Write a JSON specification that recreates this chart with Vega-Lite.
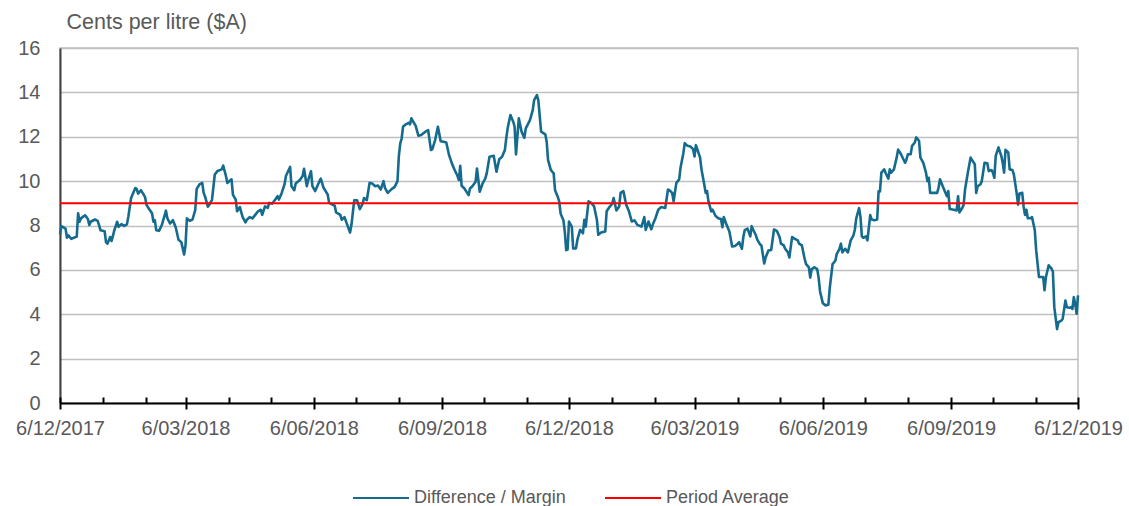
{
  "$schema": "https://vega.github.io/schema/vega-lite/v6.json",
  "width": 1018,
  "height": 355,
  "autosize": {"type": "none"},
  "padding": {"left": 60, "top": 48, "right": 51, "bottom": 103},
  "background": "white",
  "config": {
    "font": "Liberation Sans",
    "view": {"stroke": "#c0c0c0", "strokeWidth": 1.5},
    "legend": {
      "orient": "none", "legendX": 292, "legendY": 421, "direction": "horizontal",
      "title": null, "symbolType": "stroke", "symbolSize": 3136, "symbolStrokeWidth": 2,
      "labelFontSize": 18, "labelColor": "#595959", "labelFont": "Liberation Sans",
      "columnPadding": 35, "labelOffset": 4, "labelLimit": 400
    }
  },
  "datasets": {
    "margin": [
      {"date":"2017-12-06","value":7.6},{"date":"2017-12-07","value":7.97},{"date":"2017-12-10","value":7.86},{"date":"2017-12-11","value":7.45},{"date":"2017-12-12","value":7.56},{"date":"2017-12-14","value":7.4},{"date":"2017-12-16","value":7.45},{"date":"2017-12-18","value":7.5},{"date":"2017-12-19","value":8.55},{"date":"2017-12-20","value":8.17},{"date":"2017-12-21","value":8.32},{"date":"2017-12-24","value":8.46},{"date":"2017-12-26","value":8.29},{"date":"2017-12-27","value":8.02},{"date":"2017-12-28","value":8.17},{"date":"2017-12-31","value":8.27},
      {"date":"2018-01-02","value":8.21},{"date":"2018-01-03","value":8.02},{"date":"2018-01-04","value":7.79},{"date":"2018-01-07","value":7.74},{"date":"2018-01-08","value":7.25},{"date":"2018-01-09","value":7.18},{"date":"2018-01-11","value":7.48},{"date":"2018-01-12","value":7.3},{"date":"2018-01-14","value":7.79},{"date":"2018-01-16","value":8.17},{"date":"2018-01-17","value":7.94},{"date":"2018-01-19","value":8.06},{"date":"2018-01-21","value":7.98},{"date":"2018-01-23","value":8.05},{"date":"2018-01-24","value":8.4},{"date":"2018-01-26","value":9.24},{"date":"2018-01-29","value":9.69},{"date":"2018-01-30","value":9.65},{"date":"2018-01-31","value":9.44},
      {"date":"2018-02-02","value":9.59},{"date":"2018-02-04","value":9.39},{"date":"2018-02-05","value":9.28},{"date":"2018-02-06","value":8.93},{"date":"2018-02-08","value":8.73},{"date":"2018-02-10","value":8.55},{"date":"2018-02-11","value":8.17},{"date":"2018-02-12","value":8.24},{"date":"2018-02-13","value":7.79},{"date":"2018-02-15","value":7.76},{"date":"2018-02-17","value":8.02},{"date":"2018-02-20","value":8.67},{"date":"2018-02-21","value":8.32},{"date":"2018-02-23","value":8.09},{"date":"2018-02-25","value":8.24},{"date":"2018-02-27","value":7.91},
      {"date":"2018-03-01","value":7.36},{"date":"2018-03-03","value":7.25},{"date":"2018-03-05","value":6.69},{"date":"2018-03-06","value":7.1},{"date":"2018-03-07","value":8.32},{"date":"2018-03-09","value":8.21},{"date":"2018-03-11","value":8.27},{"date":"2018-03-13","value":8.7},{"date":"2018-03-14","value":9.65},{"date":"2018-03-16","value":9.85},{"date":"2018-03-18","value":9.92},{"date":"2018-03-19","value":9.47},{"date":"2018-03-20","value":9.31},{"date":"2018-03-22","value":8.85},{"date":"2018-03-23","value":8.93},{"date":"2018-03-25","value":9.16},{"date":"2018-03-27","value":10.3},{"date":"2018-03-29","value":10.46},
      {"date":"2018-04-01","value":10.53},{"date":"2018-04-02","value":10.7},{"date":"2018-04-04","value":10.23},{"date":"2018-04-05","value":9.92},{"date":"2018-04-08","value":10.08},{"date":"2018-04-09","value":9.39},{"date":"2018-04-11","value":9.17},{"date":"2018-04-12","value":8.64},{"date":"2018-04-14","value":8.83},{"date":"2018-04-15","value":8.59},{"date":"2018-04-16","value":8.38},{"date":"2018-04-18","value":8.14},{"date":"2018-04-19","value":8.26},{"date":"2018-04-21","value":8.38},{"date":"2018-04-23","value":8.32},{"date":"2018-04-25","value":8.48},{"date":"2018-04-27","value":8.64},{"date":"2018-04-29","value":8.71},{"date":"2018-04-30","value":8.48},
      {"date":"2018-05-02","value":8.86},{"date":"2018-05-04","value":8.79},{"date":"2018-05-05","value":9.02},{"date":"2018-05-07","value":8.98},{"date":"2018-05-09","value":9.14},{"date":"2018-05-11","value":9.32},{"date":"2018-05-12","value":9.17},{"date":"2018-05-14","value":9.47},{"date":"2018-05-16","value":9.85},{"date":"2018-05-17","value":10.23},{"date":"2018-05-20","value":10.64},{"date":"2018-05-21","value":9.77},{"date":"2018-05-23","value":9.59},{"date":"2018-05-24","value":9.89},{"date":"2018-05-27","value":10.05},{"date":"2018-05-29","value":10.23},{"date":"2018-05-30","value":10.56},
      {"date":"2018-06-01","value":9.77},{"date":"2018-06-02","value":10.05},{"date":"2018-06-04","value":10.45},{"date":"2018-06-05","value":9.77},{"date":"2018-06-07","value":9.55},{"date":"2018-06-09","value":9.85},{"date":"2018-06-11","value":10.11},{"date":"2018-06-13","value":9.7},{"date":"2018-06-16","value":9.39},{"date":"2018-06-17","value":9.02},{"date":"2018-06-21","value":8.89},{"date":"2018-06-22","value":8.59},{"date":"2018-06-25","value":8.48},{"date":"2018-06-26","value":8.26},{"date":"2018-06-28","value":8.38},{"date":"2018-06-30","value":8.03},
      {"date":"2018-07-02","value":7.68},{"date":"2018-07-03","value":8.03},{"date":"2018-07-05","value":9.14},{"date":"2018-07-07","value":9.14},{"date":"2018-07-09","value":8.74},{"date":"2018-07-11","value":8.98},{"date":"2018-07-12","value":9.24},{"date":"2018-07-14","value":9.14},{"date":"2018-07-16","value":9.92},{"date":"2018-07-18","value":9.89},{"date":"2018-07-20","value":9.77},{"date":"2018-07-22","value":9.8},{"date":"2018-07-24","value":9.62},{"date":"2018-07-26","value":10.0},{"date":"2018-07-27","value":9.7},{"date":"2018-07-29","value":9.47},
      {"date":"2018-08-01","value":9.65},{"date":"2018-08-03","value":9.74},{"date":"2018-08-05","value":10.0},{"date":"2018-08-06","value":11.14},{"date":"2018-08-07","value":11.7},{"date":"2018-08-08","value":11.92},{"date":"2018-08-09","value":12.45},{"date":"2018-08-11","value":12.56},{"date":"2018-08-13","value":12.63},{"date":"2018-08-14","value":12.56},{"date":"2018-08-15","value":12.83},{"date":"2018-08-16","value":12.71},{"date":"2018-08-18","value":12.5},{"date":"2018-08-20","value":12.05},{"date":"2018-08-22","value":12.08},{"date":"2018-08-25","value":12.23},{"date":"2018-08-27","value":12.3},{"date":"2018-08-29","value":11.4},{"date":"2018-08-30","value":11.44},
      {"date":"2018-09-01","value":11.85},{"date":"2018-09-03","value":12.45},{"date":"2018-09-05","value":11.8},{"date":"2018-09-07","value":11.77},{"date":"2018-09-09","value":11.74},{"date":"2018-09-11","value":11.17},{"date":"2018-09-13","value":10.8},{"date":"2018-09-15","value":10.5},{"date":"2018-09-17","value":10.24},{"date":"2018-09-18","value":10.05},{"date":"2018-09-19","value":10.69},{"date":"2018-09-20","value":9.79},{"date":"2018-09-22","value":9.67},{"date":"2018-09-25","value":9.37},{"date":"2018-09-26","value":9.67},{"date":"2018-09-28","value":9.79},{"date":"2018-09-30","value":9.97},
      {"date":"2018-10-01","value":10.57},{"date":"2018-10-03","value":9.52},{"date":"2018-10-05","value":9.89},{"date":"2018-10-07","value":10.12},{"date":"2018-10-08","value":10.35},{"date":"2018-10-10","value":11.1},{"date":"2018-10-13","value":11.14},{"date":"2018-10-15","value":10.42},{"date":"2018-10-17","value":10.99},{"date":"2018-10-19","value":11.1},{"date":"2018-10-21","value":11.4},{"date":"2018-10-22","value":11.92},{"date":"2018-10-23","value":12.38},{"date":"2018-10-25","value":12.98},{"date":"2018-10-27","value":12.68},{"date":"2018-10-28","value":12.45},{"date":"2018-10-29","value":11.2},{"date":"2018-10-31","value":12.83},
      {"date":"2018-11-02","value":12.23},{"date":"2018-11-04","value":11.95},{"date":"2018-11-05","value":12.38},{"date":"2018-11-08","value":12.75},{"date":"2018-11-10","value":13.2},{"date":"2018-11-11","value":13.65},{"date":"2018-11-13","value":13.88},{"date":"2018-11-14","value":13.65},{"date":"2018-11-16","value":12.23},{"date":"2018-11-19","value":12.11},{"date":"2018-11-20","value":11.77},{"date":"2018-11-21","value":10.95},{"date":"2018-11-23","value":10.5},{"date":"2018-11-25","value":10.35},{"date":"2018-11-26","value":9.59},{"date":"2018-11-28","value":9.29},{"date":"2018-11-29","value":9.07},{"date":"2018-11-30","value":8.53},
      {"date":"2018-12-02","value":8.24},{"date":"2018-12-03","value":7.71},{"date":"2018-12-04","value":6.89},{"date":"2018-12-05","value":6.92},{"date":"2018-12-06","value":8.18},{"date":"2018-12-08","value":7.95},{"date":"2018-12-09","value":6.97},{"date":"2018-12-11","value":6.97},{"date":"2018-12-12","value":7.35},{"date":"2018-12-14","value":7.8},{"date":"2018-12-16","value":7.65},{"date":"2018-12-17","value":8.26},{"date":"2018-12-18","value":7.95},{"date":"2018-12-20","value":9.09},{"date":"2018-12-22","value":9.02},{"date":"2018-12-24","value":8.86},{"date":"2018-12-26","value":8.26},{"date":"2018-12-27","value":7.58},{"date":"2018-12-29","value":7.68},
      {"date":"2019-01-01","value":7.73},{"date":"2019-01-02","value":8.64},{"date":"2019-01-04","value":8.83},{"date":"2019-01-06","value":8.98},{"date":"2019-01-07","value":9.24},{"date":"2019-01-09","value":8.68},{"date":"2019-01-11","value":8.86},{"date":"2019-01-12","value":9.47},{"date":"2019-01-14","value":9.55},{"date":"2019-01-16","value":8.94},{"date":"2019-01-18","value":8.64},{"date":"2019-01-20","value":8.18},{"date":"2019-01-22","value":8.23},{"date":"2019-01-24","value":8.03},{"date":"2019-01-27","value":7.95},{"date":"2019-01-29","value":8.38},{"date":"2019-01-30","value":7.8},
      {"date":"2019-02-01","value":8.18},{"date":"2019-02-03","value":7.83},{"date":"2019-02-04","value":8.03},{"date":"2019-02-06","value":8.33},{"date":"2019-02-08","value":8.71},{"date":"2019-02-10","value":8.83},{"date":"2019-02-13","value":8.79},{"date":"2019-02-15","value":9.62},{"date":"2019-02-16","value":9.59},{"date":"2019-02-18","value":9.47},{"date":"2019-02-19","value":9.09},{"date":"2019-02-21","value":9.92},{"date":"2019-02-23","value":10.08},{"date":"2019-02-24","value":10.61},{"date":"2019-02-26","value":11.26},{"date":"2019-02-27","value":11.71},
      {"date":"2019-03-01","value":11.59},{"date":"2019-03-03","value":11.56},{"date":"2019-03-05","value":11.44},{"date":"2019-03-06","value":11.11},{"date":"2019-03-07","value":11.62},{"date":"2019-03-08","value":11.44},{"date":"2019-03-10","value":11.06},{"date":"2019-03-11","value":10.53},{"date":"2019-03-13","value":9.85},{"date":"2019-03-14","value":9.47},{"date":"2019-03-15","value":9.55},{"date":"2019-03-16","value":9.09},{"date":"2019-03-18","value":8.64},{"date":"2019-03-19","value":8.71},{"date":"2019-03-21","value":8.44},{"date":"2019-03-23","value":8.33},{"date":"2019-03-25","value":8.29},{"date":"2019-03-26","value":7.92},{"date":"2019-03-27","value":8.38},{"date":"2019-03-29","value":8.03},{"date":"2019-03-31","value":7.73},
      {"date":"2019-04-02","value":7.05},{"date":"2019-04-04","value":7.08},{"date":"2019-04-06","value":7.18},{"date":"2019-04-07","value":7.25},{"date":"2019-04-09","value":6.95},{"date":"2019-04-10","value":7.48},{"date":"2019-04-11","value":7.79},{"date":"2019-04-13","value":7.86},{"date":"2019-04-15","value":7.51},{"date":"2019-04-16","value":7.97},{"date":"2019-04-17","value":7.82},{"date":"2019-04-19","value":7.56},{"date":"2019-04-20","value":7.36},{"date":"2019-04-22","value":7.15},{"date":"2019-04-23","value":7.1},{"date":"2019-04-25","value":6.29},{"date":"2019-04-26","value":6.56},{"date":"2019-04-28","value":6.87},{"date":"2019-04-30","value":6.9},
      {"date":"2019-05-02","value":7.82},{"date":"2019-05-04","value":7.76},{"date":"2019-05-06","value":7.48},{"date":"2019-05-07","value":7.18},{"date":"2019-05-09","value":7.1},{"date":"2019-05-10","value":6.95},{"date":"2019-05-12","value":6.79},{"date":"2019-05-13","value":6.56},{"date":"2019-05-15","value":7.48},{"date":"2019-05-17","value":7.4},{"date":"2019-05-19","value":7.33},{"date":"2019-05-20","value":7.18},{"date":"2019-05-22","value":7.1},{"date":"2019-05-24","value":6.49},{"date":"2019-05-25","value":6.26},{"date":"2019-05-27","value":6.11},{"date":"2019-05-28","value":5.65},{"date":"2019-05-29","value":6.03},{"date":"2019-05-31","value":6.11},
      {"date":"2019-06-02","value":6.03},{"date":"2019-06-03","value":5.65},{"date":"2019-06-04","value":5.04},{"date":"2019-06-06","value":4.5},{"date":"2019-06-08","value":4.4},{"date":"2019-06-10","value":4.43},{"date":"2019-06-11","value":5.19},{"date":"2019-06-12","value":5.73},{"date":"2019-06-13","value":6.26},{"date":"2019-06-15","value":6.41},{"date":"2019-06-16","value":6.72},{"date":"2019-06-18","value":6.95},{"date":"2019-06-19","value":7.18},{"date":"2019-06-20","value":6.79},{"date":"2019-06-22","value":6.95},{"date":"2019-06-24","value":6.79},{"date":"2019-06-26","value":7.33},{"date":"2019-06-28","value":7.56},{"date":"2019-06-29","value":7.82},{"date":"2019-06-30","value":8.32},
      {"date":"2019-07-02","value":8.78},{"date":"2019-07-03","value":8.4},{"date":"2019-07-04","value":7.51},{"date":"2019-07-05","value":7.45},{"date":"2019-07-07","value":7.51},{"date":"2019-07-08","value":7.33},{"date":"2019-07-10","value":8.47},{"date":"2019-07-11","value":8.27},{"date":"2019-07-13","value":8.24},{"date":"2019-07-15","value":8.27},{"date":"2019-07-16","value":9.54},{"date":"2019-07-17","value":9.54},{"date":"2019-07-18","value":10.38},{"date":"2019-07-20","value":10.53},{"date":"2019-07-21","value":10.38},{"date":"2019-07-23","value":10.11},{"date":"2019-07-24","value":10.53},{"date":"2019-07-25","value":10.38},{"date":"2019-07-27","value":10.53},{"date":"2019-07-29","value":11.07},{"date":"2019-07-30","value":11.42},
      {"date":"2019-08-01","value":11.22},{"date":"2019-08-04","value":10.83},{"date":"2019-08-05","value":10.98},{"date":"2019-08-06","value":11.21},{"date":"2019-08-08","value":11.21},{"date":"2019-08-09","value":11.59},{"date":"2019-08-11","value":11.74},{"date":"2019-08-12","value":11.97},{"date":"2019-08-14","value":11.82},{"date":"2019-08-15","value":11.06},{"date":"2019-08-17","value":10.83},{"date":"2019-08-19","value":10.38},{"date":"2019-08-20","value":10.0},{"date":"2019-08-21","value":10.15},{"date":"2019-08-22","value":9.47},{"date":"2019-08-24","value":9.47},{"date":"2019-08-27","value":9.47},{"date":"2019-08-28","value":9.7},{"date":"2019-08-29","value":10.08},{"date":"2019-08-31","value":9.77},
      {"date":"2019-09-02","value":9.47},{"date":"2019-09-03","value":9.32},{"date":"2019-09-04","value":9.55},{"date":"2019-09-05","value":8.74},{"date":"2019-09-08","value":8.71},{"date":"2019-09-10","value":8.68},{"date":"2019-09-11","value":9.32},{"date":"2019-09-12","value":8.59},{"date":"2019-09-14","value":8.79},{"date":"2019-09-15","value":8.94},{"date":"2019-09-16","value":9.62},{"date":"2019-09-18","value":10.38},{"date":"2019-09-20","value":11.06},{"date":"2019-09-21","value":10.95},{"date":"2019-09-23","value":10.76},{"date":"2019-09-24","value":9.47},{"date":"2019-09-25","value":9.77},{"date":"2019-09-27","value":9.85},{"date":"2019-09-28","value":10.0},{"date":"2019-09-30","value":10.83},
      {"date":"2019-10-02","value":10.8},{"date":"2019-10-03","value":10.45},{"date":"2019-10-05","value":10.5},{"date":"2019-10-06","value":10.38},{"date":"2019-10-07","value":10.15},{"date":"2019-10-08","value":11.14},{"date":"2019-10-10","value":11.52},{"date":"2019-10-12","value":11.14},{"date":"2019-10-13","value":10.83},{"date":"2019-10-14","value":10.38},{"date":"2019-10-15","value":11.41},{"date":"2019-10-17","value":11.29},{"date":"2019-10-18","value":10.53},{"date":"2019-10-20","value":10.5},{"date":"2019-10-21","value":10.3},{"date":"2019-10-23","value":9.47},{"date":"2019-10-24","value":8.94},{"date":"2019-10-25","value":9.44},{"date":"2019-10-27","value":9.47},{"date":"2019-10-28","value":8.86},{"date":"2019-10-29","value":8.48},{"date":"2019-10-30","value":8.71},{"date":"2019-10-31","value":8.33},
      {"date":"2019-11-02","value":8.33},{"date":"2019-11-03","value":8.38},{"date":"2019-11-05","value":7.8},{"date":"2019-11-06","value":6.89},{"date":"2019-11-08","value":5.68},{"date":"2019-11-10","value":5.68},{"date":"2019-11-11","value":5.68},{"date":"2019-11-12","value":5.08},{"date":"2019-11-13","value":5.68},{"date":"2019-11-15","value":6.21},{"date":"2019-11-17","value":6.06},{"date":"2019-11-18","value":5.91},{"date":"2019-11-19","value":4.32},{"date":"2019-11-21","value":3.33},{"date":"2019-11-22","value":3.64},{"date":"2019-11-24","value":3.71},{"date":"2019-11-25","value":3.79},{"date":"2019-11-27","value":4.62},{"date":"2019-11-28","value":4.32},{"date":"2019-11-30","value":4.29},
      {"date":"2019-12-01","value":4.32},{"date":"2019-12-02","value":4.24},{"date":"2019-12-03","value":4.77},{"date":"2019-12-04","value":4.47},{"date":"2019-12-05","value":4.02},{"date":"2019-12-06","value":4.85}
    ],
    "average": [
      {"series": "Period Average", "start": "2017-12-06", "end": "2019-12-06", "value": 9.0}
    ]
  },
  "layer": [
    {
      "data": {"name": "margin"},
      "mark": {"type": "line", "strokeWidth": 2.6, "strokeJoin": "round"},
      "encoding": {
        "x": {
          "field": "date", "type": "temporal",
          "scale": {"type": "utc", "domain": [{"year": 2017, "month": 12, "date": 6, "utc": true}, {"year": 2019, "month": 12, "date": 6, "utc": true}]},
          "axis": {
            "orient": "bottom", "title": null, "grid": false,
            "values": [
              {"year": 2017, "month": 12, "date": 6, "utc": true},
              {"year": 2018, "month": 3, "date": 6, "utc": true},
              {"year": 2018, "month": 6, "date": 6, "utc": true},
              {"year": 2018, "month": 9, "date": 6, "utc": true},
              {"year": 2018, "month": 12, "date": 6, "utc": true},
              {"year": 2019, "month": 3, "date": 6, "utc": true},
              {"year": 2019, "month": 6, "date": 6, "utc": true},
              {"year": 2019, "month": 9, "date": 6, "utc": true},
              {"year": 2019, "month": 12, "date": 6, "utc": true}
            ],
            "format": "%-d/%m/%Y",
            "labelFontSize": 20, "labelColor": "#595959", "labelFont": "Liberation Sans",
            "labelPadding": 9, "labelFlush": false, "labelOverlap": false,
            "tickSize": 6, "tickWidth": 2, "tickColor": "#000000",
            "domainColor": "#000000", "domainWidth": 2, "zindex": 1
          }
        },
        "y": {
          "field": "value", "type": "quantitative",
          "scale": {"domain": [0, 16], "nice": false, "zero": true},
          "axis": {
            "values": [0, 2, 4, 6, 8, 10, 12, 14, 16],
            "grid": true, "gridColor": "#c0c0c0", "gridWidth": 1.5,
            "ticks": false, "domainColor": "#404040", "domainWidth": 2,
            "labelFontSize": 20, "labelColor": "#595959", "labelFont": "Liberation Sans", "labelPadding": 20,
            "title": "Cents per litre ($A)", "titleAngle": 0, "titleX": 6, "titleY": -26,
            "titleAlign": "left", "titleBaseline": "middle", "titleFontSize": 21.5,
            "titleFontWeight": "normal", "titleColor": "#595959", "titleFont": "Liberation Sans"
          }
        },
        "color": {
          "datum": "Difference / Margin",
          "scale": {"domain": ["Difference / Margin", "Period Average"], "range": ["#156b8e", "#ff0000"]}
        }
      }
    },
    {
      "data": {"name": "average"},
      "mark": {"type": "rule", "strokeWidth": 2},
      "encoding": {
        "x": {
          "field": "start", "type": "temporal",
          "axis": {
            "orient": "bottom", "title": null, "grid": false, "labels": false, "domain": false,
            "values": [
              {"year": 2017, "month": 12, "date": 6, "utc": true},
              {"year": 2018, "month": 1, "date": 6, "utc": true},
              {"year": 2018, "month": 2, "date": 6, "utc": true},
              {"year": 2018, "month": 3, "date": 6, "utc": true},
              {"year": 2018, "month": 4, "date": 6, "utc": true},
              {"year": 2018, "month": 5, "date": 6, "utc": true},
              {"year": 2018, "month": 6, "date": 6, "utc": true},
              {"year": 2018, "month": 7, "date": 6, "utc": true},
              {"year": 2018, "month": 8, "date": 6, "utc": true},
              {"year": 2018, "month": 9, "date": 6, "utc": true},
              {"year": 2018, "month": 10, "date": 6, "utc": true},
              {"year": 2018, "month": 11, "date": 6, "utc": true},
              {"year": 2018, "month": 12, "date": 6, "utc": true},
              {"year": 2019, "month": 1, "date": 6, "utc": true},
              {"year": 2019, "month": 2, "date": 6, "utc": true},
              {"year": 2019, "month": 3, "date": 6, "utc": true},
              {"year": 2019, "month": 4, "date": 6, "utc": true},
              {"year": 2019, "month": 5, "date": 6, "utc": true},
              {"year": 2019, "month": 6, "date": 6, "utc": true},
              {"year": 2019, "month": 7, "date": 6, "utc": true},
              {"year": 2019, "month": 8, "date": 6, "utc": true},
              {"year": 2019, "month": 9, "date": 6, "utc": true},
              {"year": 2019, "month": 10, "date": 6, "utc": true},
              {"year": 2019, "month": 11, "date": 6, "utc": true},
              {"year": 2019, "month": 12, "date": 6, "utc": true}
            ],
            "tickSize": -6, "tickWidth": 2, "tickColor": "#000000", "zindex": 1
          }
        },
        "x2": {"field": "end"},
        "y": {"field": "value", "type": "quantitative"},
        "color": {"field": "series", "type": "nominal"}
      }
    }
  ],
  "resolve": {"axis": {"x": "independent"}}
}
